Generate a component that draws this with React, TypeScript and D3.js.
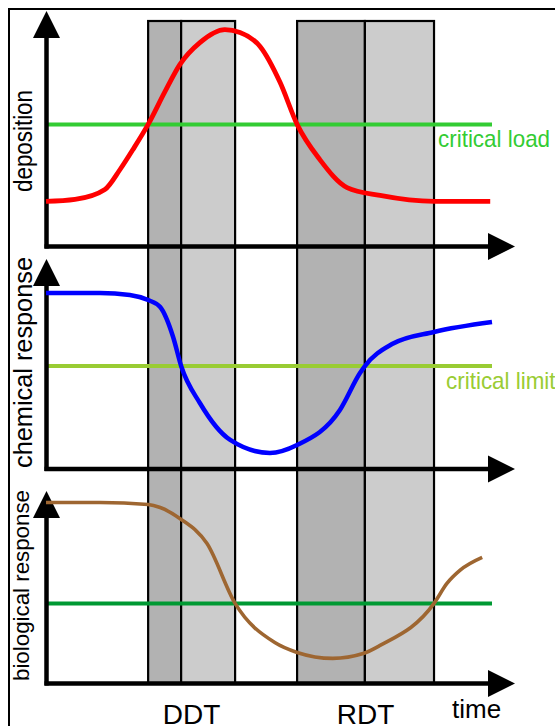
import React from "react";
import * as d3 from "d3";

// ---- data (time in arbitrary units 0..100, responses 0..100) ----
const depositionT = [0, 6.5, 13.2, 16.6, 19.5, 22.9, 26.7, 30.0, 34.5, 40.1, 43.5, 48.0, 52.5, 56.3, 61.4, 67.5, 74.9, 87.0, 99.6];
const depositionV = [20.5, 21.4, 25.9, 35.0, 44.1, 55.5, 70.5, 82.7, 92.7, 98.6, 97.3, 90.9, 74.5, 55.5, 39.5, 26.8, 23.2, 20.5, 20.5];

const chemicalT = [0, 12.1, 18.8, 22.9, 25.6, 28.5, 30.3, 34.5, 41.3, 50.2, 56.3, 65.9, 70.4, 71.5, 77.6, 87.0, 100];
const chemicalV = [80.0, 80.0, 79.1, 76.8, 73.6, 60.0, 46.8, 30.0, 13.2, 7.3, 10.9, 26.8, 43.6, 46.8, 56.8, 62.3, 66.8];

const biologicalT = [0, 12.1, 22.9, 25.6, 30.0, 36.1, 42.4, 51.3, 56.3, 64.3, 71.1, 74.9, 87.0, 89.9, 92.8, 97.8];
const biologicalV = [82.3, 82.3, 81.4, 80.0, 75.0, 63.6, 36.4, 18.6, 14.1, 11.4, 13.6, 17.3, 36.4, 45.5, 51.4, 57.3];

const thresholds = [55.5, 46.8, 36.4];
const thresholdLabels = ["critical load", "critical limit", ""];
const thresholdLabelT = [87.9, 89.7, 0];
const panelLabels = ["deposition", "chemical response", "biological response"];

const bandLabels = ["DDT", "RDT"];
const bandStarts = [22.9, 56.3];
const bandMids = [30.3, 71.5];
const bandEnds = [42.4, 87.0];

const timeLabel = "time";

// ---- styles ----
const curveColors = ["#ff0000", "#0000ff", "#9e6631"];
const curveWidths = [4.8, 4.5, 3.6];
const thrColors = ["#33cc33", "#99cc33", "#009933"];
const panelBases = [246.5, 469, 683.5];
const axisTips = [11, 259, 491];
const labelSizes = [26, 26, 22];
const labelLens = [102, 211, 191];
const labelBaselineX = [31.5, 31.5, 29];
const labelCenters = [141, 362.5, 585.5];

export default function App() {
  const x = d3.scaleLinear().domain([0, 100]).range([46, 492]);
  const series = [
    { t: depositionT, v: depositionV },
    { t: chemicalT, v: chemicalV },
    { t: biologicalT, v: biologicalV },
  ];
  const axisX = 46.5;
  const arrowEnd = 515;
  const head = 27;
  const bandTop = 21;
  const bandBottom = panelBases[2];
  const font = "'Liberation Sans', Arial, sans-serif";

  return (
    <svg
      width={555}
      height={726}
      style={{ position: "absolute", left: 0, top: 0, background: "#fff" }}
    >
      <rect x={9} y={9} width={600} height={760} fill="#fff" stroke="#000" strokeWidth={2} />
      {/* bands */}
      {bandLabels.map((b, i) => (
        <g key={b}>
          <rect x={x(bandStarts[i])} y={bandTop} width={x(bandMids[i]) - x(bandStarts[i])} height={bandBottom - bandTop} fill="#b2b2b2" stroke="#000" strokeWidth={2.2} />
          <rect x={x(bandMids[i])} y={bandTop} width={x(bandEnds[i]) - x(bandMids[i])} height={bandBottom - bandTop} fill="#cccccc" stroke="#000" strokeWidth={2.2} />
          <text x={(x(bandStarts[i]) + x(bandEnds[i])) / 2} y={724} textAnchor="middle" fontFamily={font} fontSize={28} fill="#000">{b}</text>
        </g>
      ))}
      {series.map((s, i) => {
        const y = d3.scaleLinear().domain([0, 100]).range([panelBases[i], panelBases[i] - 220]);
        const line = d3
          .line<number>()
          .x((_, k) => x(s.t[k]))
          .y((d) => y(d))
          .curve(d3.curveMonotoneX);
        const tipY = axisTips[i];
        const base = panelBases[i];
        return (
          <g key={i}>
            {/* threshold */}
            <line x1={x(0)} x2={x(100)} y1={y(thresholds[i])} y2={y(thresholds[i])} stroke={thrColors[i]} strokeWidth={4} />
            {thresholdLabels[i] && (
              <text x={x(thresholdLabelT[i])} y={y(thresholds[i]) + 23} fontFamily={font} fontSize={24} fill={thrColors[i]} textLength={i === 0 ? 112 : 109.5} lengthAdjust="spacingAndGlyphs">
                {thresholdLabels[i]}
              </text>
            )}
            {/* axes */}
            <line x1={axisX} x2={axisX} y1={tipY + head - 2} y2={base + 2} stroke="#000" strokeWidth={4.5} />
            <path d={`M${axisX},${tipY} L${axisX - 13.5},${tipY + head} L${axisX + 13.5},${tipY + head} Z`} fill="#000" />
            <line x1={axisX - 2} x2={arrowEnd - head + 2} y1={base} y2={base} stroke="#000" strokeWidth={4.5} />
            <path d={`M${arrowEnd},${base} L${arrowEnd - head},${base - 13.5} L${arrowEnd - head},${base + 13.5} Z`} fill="#000" />
            {/* curve */}
            <path d={line(s.v) || ""} fill="none" stroke={curveColors[i]} strokeWidth={curveWidths[i]} strokeLinejoin="round" />
            {/* y label */}
            <text
              transform={`translate(${labelBaselineX[i]},${labelCenters[i]}) rotate(-90)`}
              textAnchor="middle"
              fontFamily={font}
              fontSize={labelSizes[i]}
              textLength={labelLens[i]}
              lengthAdjust="spacingAndGlyphs"
              fill="#000"
            >
              {panelLabels[i]}
            </text>
          </g>
        );
      })}
      <text x={452} y={718} fontFamily={font} fontSize={26} fill="#000">{timeLabel}</text>
    </svg>
  );
}
